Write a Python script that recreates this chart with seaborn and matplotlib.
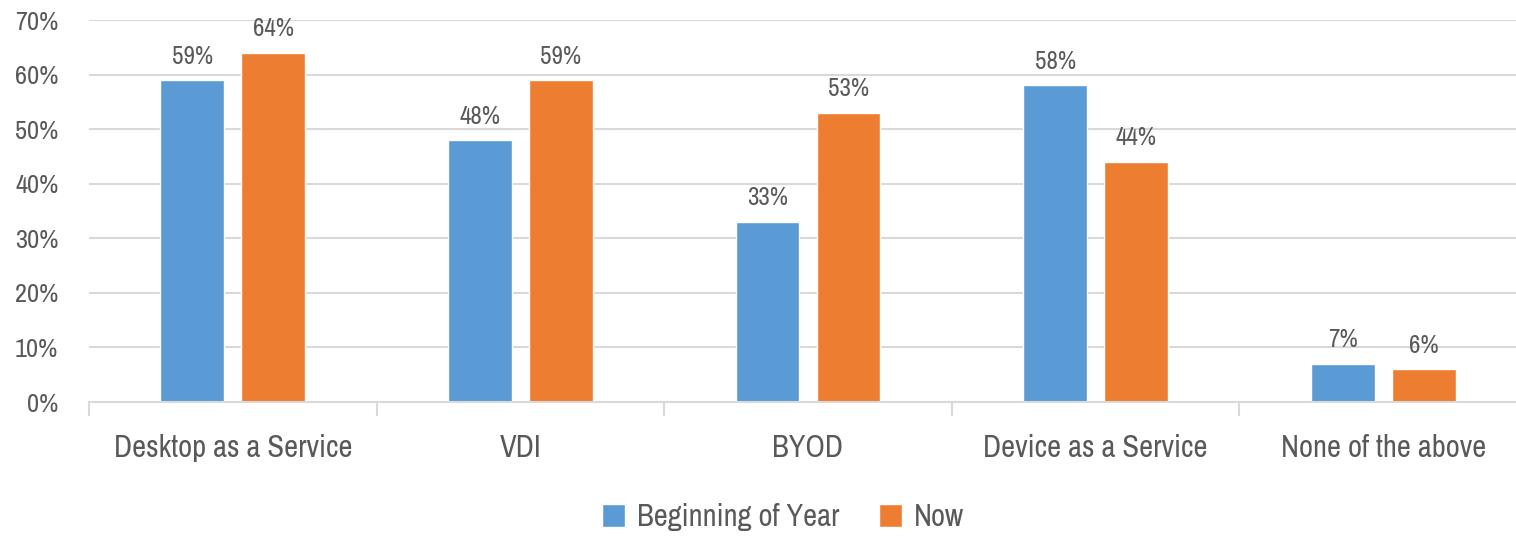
import pandas as pd
import matplotlib.pyplot as plt
import seaborn as sns
from matplotlib import font_manager
from matplotlib.ticker import FixedLocator, FuncFormatter

# chart data
categories = ['Desktop as a Service', 'VDI', 'BYOD', 'Device as a Service', 'None of the above']
beginning_of_year = [59, 48, 33, 58, 7]
now = [64, 59, 53, 44, 6]
series_names = ['Beginning of Year', 'Now']
colors = ['#5B9BD5', '#ED7D31']

text_color = '#595959'
grid_color = '#D9D9D9'

sns.set_theme(style='white')

# look for a narrow face among installed fonts
names = sorted({f.name for f in font_manager.fontManager.ttflist})
narrow = [n for n in names if 'Narrow' in n or 'Condensed' in n]
plt.rcParams['font.family'] = narrow[:1] + ['DejaVu Sans']
plt.rcParams['font.stretch'] = 'condensed'

# long format table for seaborn
df = pd.DataFrame({
    'category': categories * 2,
    'value': beginning_of_year + now,
    'series': [series_names[0]] * len(categories) + [series_names[1]] * len(categories),
})

fig = plt.figure(figsize=(15.16, 5.36), dpi=100)
ax = fig.add_axes([89 / 1516, 1 - 402 / 536, 1438 / 1516, 382 / 536])

sns.barplot(data=df, x='category', y='value', hue='series', palette=colors,
            width=0.563, gap=0.21, saturation=1, ax=ax)

ax.set_xlim(-0.5, len(categories) - 0.5)
ax.set_ylim(0, 70)
ax.set_yticks(range(0, 71, 10))
ax.yaxis.set_major_formatter(FuncFormatter(lambda v, _: f'{v:.0f}%'))
ax.yaxis.grid(True, color=grid_color, linewidth=1.5)
ax.set_axisbelow(True)

# data labels
for cont in ax.containers:
    ax.bar_label(cont, fmt='%d%%', padding=9, fontsize=18, color=text_color)

# tick marks between categories
ax.xaxis.set_minor_locator(FixedLocator([i - 0.5 for i in range(len(categories) + 1)]))
ax.tick_params(axis='x', which='major', length=0, pad=23, labelsize=22, labelcolor=text_color)
ax.tick_params(axis='x', which='minor', bottom=True, length=10, width=1.5, color=grid_color)
ax.tick_params(axis='y', length=0, pad=22, labelsize=19, labelcolor=text_color)

for side in ['top', 'right', 'left']:
    ax.spines[side].set_visible(False)
ax.spines['bottom'].set_color(grid_color)
ax.spines['bottom'].set_linewidth(1.5)

ax.set_xlabel('')
ax.set_ylabel('')

handles, labels = ax.get_legend_handles_labels()
ax.legend(handles, labels, loc='center', bbox_to_anchor=(783 / 1516, 1 - 517 / 536), bbox_transform=fig.transFigure,
          ncol=2, frameon=False, fontsize=22, labelcolor=text_color, handlelength=0.75, handleheight=0.75,
          handletextpad=0.4, columnspacing=1.3)

fig.savefig('out.png', dpi=100)
